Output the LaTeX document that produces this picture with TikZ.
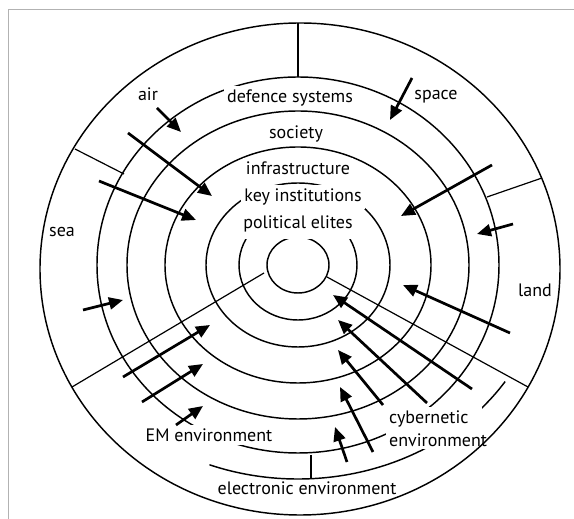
\documentclass[tikz,border=0pt]{standalone}
\usepackage{fontspec}
\setmainfont{PT Sans}
\usetikzlibrary{arrows.meta,calc}
\begin{document}
\begin{tikzpicture}[x=1pt,y=1pt,
  ring/.style={line width=1.45pt},
  sector/.style={line width=1.2pt},
  arr/.style={line width=2.7pt,-{Triangle[length=14pt,width=12pt]}},
  lbl/.style={font=\fontsize{18}{18}\selectfont, inner sep=1pt},
  wlbl/.style={lbl, fill=white, inner xsep=3pt, inner ysep=4pt}]
\useasboundingbox (0,0) rectangle (574,519);
% frame
\draw[gray!60, line width=1pt] (8,0) -- (8,509) -- (574,509);
\coordinate (c) at (298,254);
\coordinate (co) at (300,250);
% rings
\draw[ring] (c) ellipse [x radius=31pt, y radius=28pt];
\draw[ring] (c) ellipse [x radius=59pt, y radius=55pt];
\draw[ring] (c) ellipse [x radius=92pt, y radius=82pt];
\draw[ring] (c) ellipse [x radius=133pt, y radius=118pt];
\draw[ring] (c) ellipse [x radius=171pt, y radius=154pt];
\draw[ring] (c) ellipse [x radius=201pt, y radius=188pt];
% partial ring (electronic / cybernetic)
\draw[ring] ($(c)+(249:247pt and 214pt)$) arc[start angle=249, end angle=327, x radius=247pt, y radius=214pt];
\coordinate (tk1) at (311,64);
\coordinate (tk2) at (311,40);
\draw[sector] (tk1) -- (tk2);
% sector lines
\coordinate (s1a) at (298,496); \coordinate (s1b) at (298,442);
\coordinate (s2a) at (75,370);  \coordinate (s2b) at (124,345);
\coordinate (s3a) at (542,341); \coordinate (s3b) at (487,322);
\coordinate (s4a) at (264,246); \coordinate (s4b) at (72,132);
\coordinate (s5a) at (327,242); \coordinate (s5b) at (528,132);
\foreach \p in {1,...,5} \draw[sector] (s\p a) -- (s\p b);
% labels
\node[wlbl] (air) at (148,425) {air};
\node[wlbl] (def) at (290,421) {defence systems};
\node[wlbl] (space) at (436,422) {space};
\node[wlbl] (soc) at (296,385) {society};
\node[wlbl] (inf) at (298,351) {infrastructure};
\node[wlbl] (key) at (303,322) {key institutions};
\node[wlbl, inner ysep=7pt] (pol) at (298,295) {political elites};
\node[wlbl] (sea) at (62,287) {sea};
\node[wlbl] (land) at (535,229) {land};
\fill[white] (386,70) rectangle (482,112);
\node[lbl, anchor=west] (cyb) at (388,100) {cybernetic};
\node[lbl, anchor=west] (cenv) at (388,79) {environment};
\node[wlbl] (em) at (209,84) {EM environment};
\node[lbl] (el) at (307,31) {electronic environment};
% outer ring on top
\draw[ring] (co) ellipse [x radius=260pt, y radius=246pt];
% arrows
\foreach \n/\sx/\sy/\ex/\ey in {
  1/157/411/181/387, 2/412/441/390/399, 3/128/386/212/323, 4/99/338/196/299,
  5/492/354/401/303, 6/513/295/477/285, 7/83/209/123/219, 8/510/186/403/234,
  9/123/142/210/194, 10/142/117/203/155, 11/176/94/203/113,
  12/472/130/333/224, 13/427/116/338/199, 14/383/114/338/169,
  15/373/67/340/132, 16/347/57/335/92} {
  \coordinate (as\n) at (\sx,\sy);
  \coordinate (ae\n) at (\ex,\ey);
  \draw[arr] (as\n) -- (ae\n);
}
\end{tikzpicture}
\end{document}
